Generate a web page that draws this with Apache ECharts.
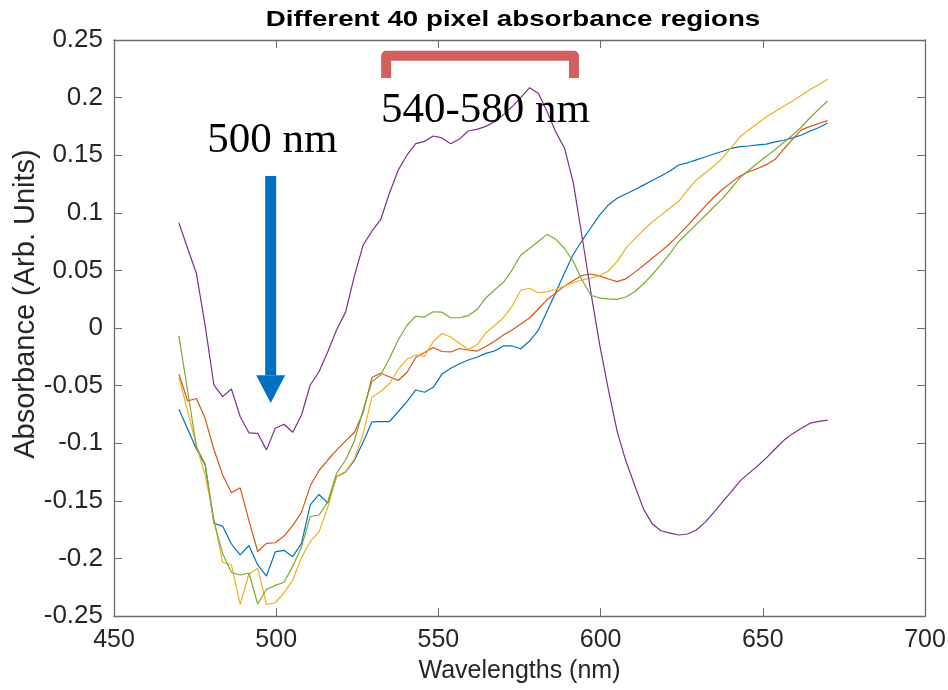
<!DOCTYPE html>
<html>
<head>
<meta charset="utf-8">
<script src="https://cdn.jsdelivr.net/npm/echarts@6/dist/echarts.min.js"></script>
<style>html,body{margin:0;padding:0;background:#fff;}#c{width:948px;height:690px;}</style>
</head>
<body>
<div id="c"></div>
<script>
const wavelengths = [470.0,472.7,475.4,478.1,480.8,483.5,486.2,488.9,491.6,494.3,497.0,499.7,502.4,505.1,507.8,510.5,513.2,515.9,518.6,521.4,524.1,526.8,529.5,532.2,534.9,537.6,540.3,543.0,545.7,548.4,551.1,553.8,556.5,559.2,561.9,564.6,567.3,570.0,572.7,575.4,578.1,580.8,583.5,586.2,588.9,591.6,594.3,597.0,599.7,602.4,605.1,607.8,610.5,613.2,615.9,618.6,621.4,624.1,626.8,629.5,632.2,634.9,637.6,640.3,643.0,645.7,648.4,651.1,653.8,656.5,659.2,661.9,664.6,667.3,670.0];

const region1 = [-0.0706,-0.0877,-0.105,-0.119,-0.1695,-0.172,-0.1875,-0.197,-0.1888,-0.2057,
-0.2153,-0.1944,-0.193,-0.1985,-0.187,-0.1536,-0.1445,-0.152,-0.129,-0.125,
-0.115,-0.099,-0.0815,-0.0813,-0.0813,-0.0727,-0.064,-0.0538,-0.0558,-0.0515,
-0.040,-0.035,-0.031,-0.0278,-0.0254,-0.022,-0.020,-0.0156,-0.0156,-0.018,
-0.0113,-0.002,0.0145,0.031,0.048,0.064,0.076,0.087,0.098,0.1068,
0.1126,0.1163,0.120,0.124,0.128,0.132,0.1363,0.1415,0.1434,0.146,
0.1484,0.151,0.1534,0.156,0.1574,0.158,0.1589,0.1596,0.1615,0.163,
0.165,0.1675,0.171,0.174,0.178];

const region2 = [-0.0402,-0.0634,-0.0612,-0.0786,-0.1055,-0.1276,-0.143,-0.1387,-0.1672,-0.194,
-0.187,-0.1864,-0.1806,-0.1716,-0.160,-0.137,-0.1237,-0.1146,-0.106,-0.098,
-0.0907,-0.0733,-0.043,-0.0393,-0.0423,-0.0456,-0.0386,-0.0256,-0.0213,-0.0169,
-0.0204,-0.0208,-0.0178,-0.0191,-0.020,-0.016,-0.0115,-0.006,-0.0017,0.0035,
0.0087,0.0165,0.0247,0.0305,0.0365,0.0412,0.0456,0.0469,0.0453,0.0425,
0.0402,0.0427,0.0483,0.0543,0.0605,0.0665,0.0733,0.081,0.0888,0.0972,
0.1056,0.1135,0.1204,0.1264,0.132,0.1356,0.1385,0.1418,0.1464,0.1554,
0.164,0.172,0.175,0.1775,0.180];

const region3 = [-0.0428,-0.072,-0.102,-0.1276,-0.166,-0.2035,-0.2057,-0.240,-0.2135,-0.2086,
-0.240,-0.2385,-0.230,-0.2188,-0.1992,-0.1853,-0.177,-0.1558,-0.129,-0.1245,
-0.1137,-0.092,-0.060,-0.0551,-0.0482,-0.036,-0.0272,-0.0234,-0.0247,-0.0117,
-0.0048,-0.0078,-0.0133,-0.0185,-0.0148,-0.0043,0.0022,0.0087,0.0187,0.033,
0.0345,0.0306,0.0313,0.0336,0.0365,0.0395,0.0417,0.0434,0.0456,0.0495,
0.0576,0.0694,0.0773,0.085,0.092,0.098,0.1042,0.110,0.1198,0.1285,
0.1345,0.1406,0.1476,0.1567,0.166,0.172,0.1775,0.1833,0.188,0.1927,
0.197,0.202,0.207,0.2114,0.216];

const region4 = [0.0914,0.069,0.0475,0.002,-0.0495,-0.0596,-0.053,-0.077,-0.091,-0.0914,
-0.1058,-0.087,-0.0835,-0.0905,-0.0755,-0.0495,-0.038,-0.0206,-0.0017,0.014,
0.045,0.072,0.084,0.094,0.117,0.137,0.150,0.160,0.162,0.1667,
0.165,0.160,0.164,0.171,0.1724,0.175,0.179,0.185,0.192,0.200,
0.2086,0.2037,0.188,0.170,0.156,0.126,0.079,0.031,-0.0143,-0.0534,
-0.0897,-0.1155,-0.1365,-0.157,-0.170,-0.176,-0.178,-0.1797,-0.1788,-0.1753,
-0.1687,-0.160,-0.151,-0.142,-0.1327,-0.1262,-0.1198,-0.1127,-0.105,-0.0975,
-0.0917,-0.087,-0.0826,-0.081,-0.0799];

const region5 = [-0.0069,-0.0547,-0.103,-0.118,-0.168,-0.196,-0.2122,-0.2144,-0.2127,-0.2396,
-0.227,-0.2234,-0.2207,-0.2069,-0.190,-0.1636,-0.1623,-0.151,-0.1263,-0.1146,
-0.098,-0.0712,-0.0464,-0.0408,-0.0265,-0.0104,0.0022,0.0102,0.0095,0.0141,
0.0137,0.0089,0.0089,0.0108,0.016,0.026,0.033,0.0395,0.0503,0.0634,
0.069,0.0751,0.0813,0.077,0.069,0.0577,0.0417,0.0284,0.026,0.0253,
0.0249,0.0269,0.0315,0.0382,0.0464,0.0551,0.0647,0.0751,0.0825,0.090,
0.0974,0.105,0.1125,0.1213,0.1305,0.1369,0.1432,0.149,0.155,0.1612,
0.1675,0.1745,0.1827,0.190,0.197];

const seriesValues = [region1, region2, region3, region4, region5];
const seriesColors = ['#0072BD', '#D95319', '#EDB120', '#7E2F8E', '#77AC30'];

const titleText = 'Different 40 pixel absorbance regions';
const xName = 'Wavelengths (nm)';
const yName = 'Absorbance (Arb. Units)';
const xMin = 450, xMax = 700, xStep = 50;
const yMin = -0.25, yMax = 0.25, yStep = 0.05;

const chart = echarts.init(document.getElementById('c'), null, {renderer: 'canvas'});
const axisColor = '#6b6b6b';
const labelColor = '#262626';
const sans = '"Liberation Sans", Arial, sans-serif';

const series = seriesValues.map((vals, k) => ({
  type: 'line',
  data: wavelengths.map((w, i) => [w, vals[i]]),
  showSymbol: false,
  symbol: 'none',
  lineStyle: {color: seriesColors[k], width: 1.2},
  itemStyle: {color: seriesColors[k]},
  animation: false,
  z: 2 + k
}));

chart.setOption({
  backgroundColor: '#fff',
  animation: false,
  grid: {left: 114, right: 23, top: 40, bottom: 74, show: false, outerBoundsMode: 'none', containLabel: false},
  xAxis: [{
    type: 'value', min: xMin, max: xMax, interval: xStep,
    name: xName, nameLocation: 'middle', nameGap: 43,
    nameTextStyle: {fontFamily: sans, fontSize: 25, color: labelColor},
    axisLine: {show: true, onZero: false, lineStyle: {color: axisColor, width: 1.3}},
    axisTick: {show: true, inside: true, length: 8, lineStyle: {color: axisColor}},
    axisLabel: {fontFamily: sans, fontSize: 25, color: labelColor, margin: 12},
    splitLine: {show: false}
  }, {
    type: 'value', min: xMin, max: xMax, interval: xStep, position: 'top',
    axisLine: {show: true, onZero: false, lineStyle: {color: axisColor, width: 1.3}},
    axisTick: {show: true, inside: true, length: 8, lineStyle: {color: axisColor}},
    axisLabel: {show: false}, splitLine: {show: false}
  }],
  yAxis: [{
    type: 'value', min: yMin, max: yMax, interval: yStep,
    axisLine: {show: true, onZero: false, lineStyle: {color: axisColor, width: 1.3}},
    axisTick: {show: true, inside: true, length: 8, lineStyle: {color: axisColor}},
    axisLabel: {fontFamily: sans, fontSize: 26, color: labelColor, margin: 11},
    splitLine: {show: false}
  }, {
    type: 'value', min: yMin, max: yMax, interval: yStep, position: 'right',
    axisLine: {show: true, onZero: false, lineStyle: {color: axisColor, width: 1.3}},
    axisTick: {show: true, inside: true, length: 8, lineStyle: {color: axisColor}},
    axisLabel: {show: false}, splitLine: {show: false}
  }],
  series: series
});

// Annotations positioned in data units
const arrow = {x: 498.3, top: 0.132, headBase: -0.041, tip: -0.065};
const bracket = {left: 533.9, right: 591.8, top: 0.2364, bottom: 0.217};
const label500 = {text: '500 nm', x: 498.8, y: 0.163};
const labelRange = {text: '540-580 nm', x: 564.5, y: 0.189};

const P = (x, y) => chart.convertToPixel({gridIndex: 0}, [x, y]);
const aTop = P(arrow.x, arrow.top), aBase = P(arrow.x, arrow.headBase), aTip = P(arrow.x, arrow.tip);
const bL0 = P(bracket.left, bracket.bottom), bL1 = P(bracket.left, bracket.top);
const bR1 = P(bracket.right, bracket.top), bR0 = P(bracket.right, bracket.bottom);
const t1 = P(label500.x, label500.y), t2 = P(labelRange.x, labelRange.y);
const serif = '"Liberation Serif", "DejaVu Serif", serif';

chart.setOption({
  graphic: [
    {type: 'text', x: 513, y: 20, scaleX: 1.26,
     style: {text: titleText, font: 'bold 22px ' + sans, fill: '#000', textAlign: 'center', textVerticalAlign: 'middle'}, z: 100},
    {type: 'text', x: 26, y: 304, rotation: Math.PI / 2,
     style: {text: yName, font: '29px ' + sans, fill: labelColor, textAlign: 'center', textVerticalAlign: 'middle'}, z: 100},
    {type: 'rect', shape: {x: aTop[0] - 5.5, y: aTop[1], width: 11, height: aBase[1] - aTop[1]},
     style: {fill: '#0070C0'}, z: 100},
    {type: 'polygon', shape: {points: [[aBase[0] - 14.5, aBase[1]], [aBase[0] + 14.5, aBase[1]], [aTip[0], aTip[1]]]},
     style: {fill: '#0070C0'}, z: 100},
    {type: 'polyline', shape: {points: [bL0, bL1, bR1, bR0]},
     style: {stroke: '#D35F5F', lineWidth: 10, lineJoin: 'round', lineCap: 'butt', fill: null}, z: 100},
    {type: 'text', x: t1[0], y: t1[1],
     style: {text: label500.text, font: '43px ' + serif, fill: '#000', textAlign: 'center', textVerticalAlign: 'middle'}, z: 100},
    {type: 'text', x: t2[0], y: t2[1],
     style: {text: labelRange.text, font: '43px ' + serif, fill: '#000', textAlign: 'center', textVerticalAlign: 'middle'}, z: 100}
  ]
});
</script>
</body>
</html>
